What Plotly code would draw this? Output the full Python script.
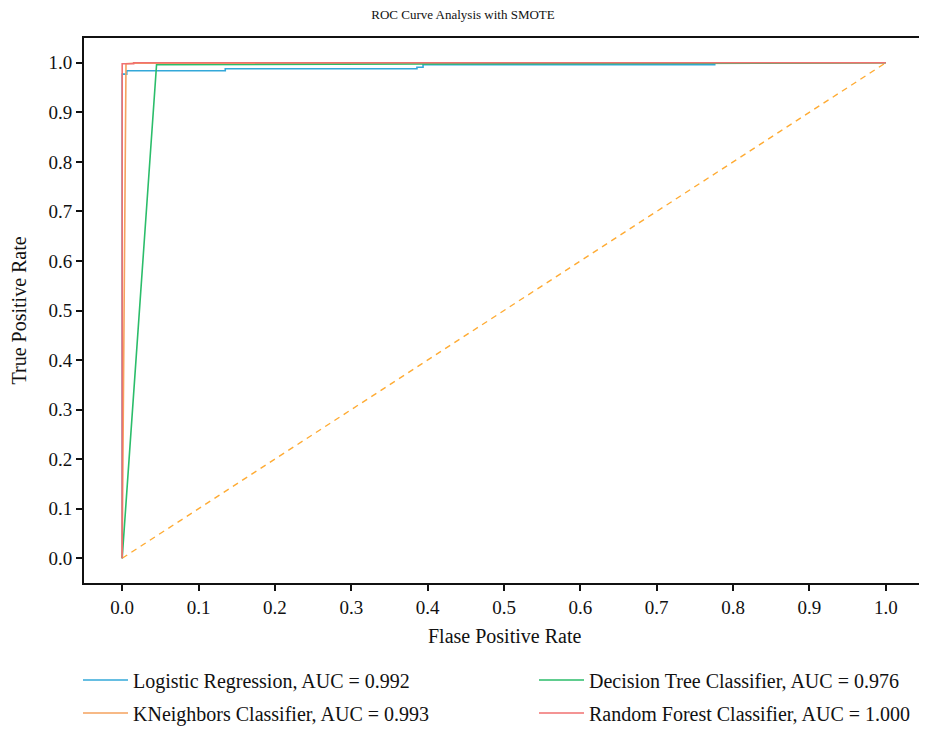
import plotly.graph_objects as go

# ROC curve data
lr_fpr = [0.0, 0.0, 0.006, 0.006, 0.135, 0.135, 0.386, 0.386, 0.394, 0.394, 0.777]
lr_tpr = [0.0, 0.977, 0.977, 0.984, 0.984, 0.988, 0.988, 0.991, 0.991, 0.996, 0.996]

knn_fpr = [0.0, 0.005, 0.005, 0.014, 1.0]
knn_tpr = [0.0, 0.95, 0.998, 0.999, 1.0]

dt_fpr = [0.0, 0.045, 1.0]
dt_tpr = [0.0, 0.996, 1.0]

rf_fpr = [0.0, 0.0, 0.015, 0.015, 1.0]
rf_tpr = [0.0, 0.998, 0.998, 1.0, 1.0]

diag_x = [0.0, 1.0]
diag_y = [0.0, 1.0]

names = [
    "Logistic Regression, AUC = 0.992",
    "KNeighbors Classifier, AUC = 0.993",
    "Decision Tree Classifier, AUC = 0.976",
    "Random Forest Classifier, AUC = 1.000",
]
colors = ["#33a8d9", "#f5a25e", "#2bbd6a", "#f07070"]
legend_ids = ["legend", "legend3", "legend2", "legend4"]

x_title = "Flase Positive Rate"
y_title = "True Positive Rate"
chart_title = "ROC Curve Analysis with SMOTE"

FONT = "Liberation Serif"
# the page body has an 8px margin, so the figure is 8px smaller on each side
OFF = 8
W, H = 927 - OFF, 729 - OFF
L, R, T, B = 84 - OFF, 3, 38 - OFF, 146
PW, PH = W - L - R, H - T - B

fig = go.Figure()
fig.add_trace(go.Scatter(x=diag_x, y=diag_y, mode="lines", showlegend=False,
                         line=dict(color="#ffab33", width=1.4, dash="6px,5px")))
series = [(lr_fpr, lr_tpr), (knn_fpr, knn_tpr), (dt_fpr, dt_tpr), (rf_fpr, rf_tpr)]
for (fx, ty), n, c, lg in zip(series, names, colors, legend_ids):
    fig.add_trace(go.Scatter(x=fx, y=ty, mode="lines", name=n, legend=lg,
                             line=dict(color=c, width=1.6)))

ticks = [round(i * 0.1, 1) for i in range(11)]
ticktext = [f"{t:.1f}" for t in ticks]

axis_common = dict(showline=True, linecolor="#111", linewidth=2, mirror=True,
                   ticks="outside", ticklen=6, tickwidth=1.5, tickcolor="#111",
                   showgrid=False, zeroline=False, automargin=False,
                   tickfont=dict(family=FONT, size=19, color="#111"))


def leg(px, py):
    return dict(xref="container", yref="container", x=(px - OFF) / W,
                y=1 - (py - OFF) / H, xanchor="left", yanchor="middle",
                orientation="v", itemwidth=45,
                font=dict(family=FONT, size=20, color="#111"),
                bgcolor="rgba(0,0,0,0)", borderwidth=0)


fig.update_layout(
    width=W, height=H,
    paper_bgcolor="white", plot_bgcolor="white",
    margin=dict(l=L, r=R, t=T, b=B, autoexpand=False),
    font=dict(family=FONT, color="#111"),
    title=dict(text=chart_title, x=(463 - OFF) / W,
               xref="container", xanchor="center", y=1 - (14 - OFF) / H,
               yanchor="middle",
               font=dict(family=FONT, size=13, color="#111")),
    xaxis=dict(range=[-0.05, 1.05], tickvals=ticks, ticktext=ticktext, **axis_common),
    yaxis=dict(range=[-0.05, 1.05], tickvals=ticks, ticktext=ticktext, **axis_common),
    legend=leg(78, 680),
    legend2=leg(534, 680),
    legend3=leg(78, 713),
    legend4=leg(534, 713),
    annotations=[
        dict(text=x_title, xref="paper", yref="paper", x=0.5,
             y=-(636 - 583) / PH, xanchor="center", yanchor="middle",
             showarrow=False, font=dict(family=FONT, size=20, color="#111")),
        dict(text=y_title, xref="paper", yref="paper", x=(18 - 84) / PW,
             y=0.5, xanchor="center", yanchor="middle", textangle=-90,
             showarrow=False, font=dict(family=FONT, size=20, color="#111")),
    ],
)

fig.write_html("out.html")
